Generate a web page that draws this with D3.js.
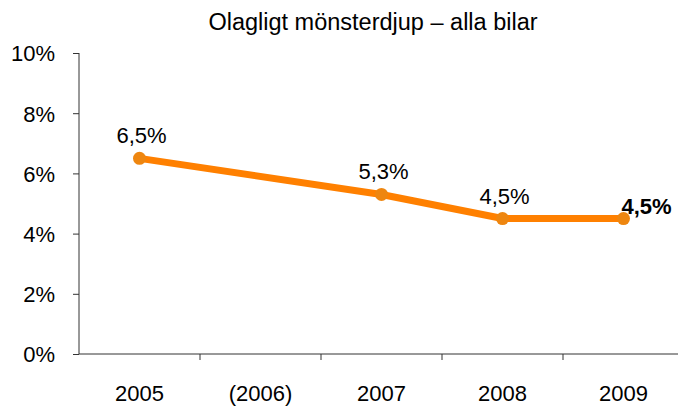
<!DOCTYPE html>
<html>
<head>
<meta charset="utf-8">
<script src="https://cdn.jsdelivr.net/npm/d3@7"></script>
<style>
  body { margin: 0; background: #fff; }
  svg { font-family: "Liberation Sans", Arial, sans-serif; overflow: hidden; }
</style>
</head>
<body>
<div id="chart"></div>
<script>
var years = ["2005", "(2006)", "2007", "2008", "2009"];
var values = [6.5, null, 5.3, 4.5, 4.5];
var labels = ["6,5%", null, "5,3%", "4,5%", "4,5%"];
var yTicks = [0, 2, 4, 6, 8, 10];

var width = 678, height = 407;
var margin = {top: 53, right: -6, bottom: 53, left: 79};

var svg = d3.select('#chart').append('svg')
    .attr('width', width)
    .attr('height', height);

var x = d3.scaleBand()
    .domain(years)
    .range([margin.left, width - margin.right]);

var y = d3.scaleLinear()
    .domain([0, 10])
    .range([height - margin.bottom, margin.top]);

// title
svg.append('text')
    .attr('x', 373)
    .attr('y', 30)
    .attr('text-anchor', 'middle')
    .style('font-size', '23.5px')
    .text('Olagligt mönsterdjup – alla bilar');

// y axis
var yAxis = svg.append('g')
    .attr('transform', 'translate(' + margin.left + ',0)')
    .call(d3.axisLeft(y).tickValues(yTicks).tickSize(6).tickPadding(18).tickFormat(d => d + '%'));
yAxis.select('.domain').attr('d', 'M0,' + y(10) + 'V' + y(0)).attr('stroke', '#333');
yAxis.selectAll('line').attr('stroke', '#333');
yAxis.selectAll('text').style('font-size', '22px').attr('fill', '#000').attr('dy', '0.36em');

// x axis, ticks at band edges
var xAxis = svg.append('g')
    .attr('transform', 'translate(0,' + y(0) + ')');
xAxis.append('line')
    .attr('x1', margin.left).attr('x2', width)
    .attr('stroke', '#333');
xAxis.selectAll('.edge')
    .data(years.slice(1))
    .enter().append('line')
    .attr('class', 'edge')
    .attr('x1', d => x(d)).attr('x2', d => x(d))
    .attr('y1', 0).attr('y2', 6)
    .attr('stroke', '#333');
xAxis.selectAll('.lbl')
    .data(years)
    .enter().append('text')
    .attr('class', 'lbl')
    .attr('x', d => x(d) + x.bandwidth() / 2)
    .attr('y', 47)
    .attr('text-anchor', 'middle')
    .style('font-size', '22px')
    .text(d => d);

var data = years.map((d, i) => ({year: d, v: values[i], label: labels[i]}))
    .filter(d => d.v !== null);

var cx = d => x(d.year) + x.bandwidth() / 2;

var line = d3.line()
    .x(cx)
    .y(d => y(d.v));

svg.append('path')
    .datum(data)
    .attr('d', line)
    .attr('fill', 'none')
    .attr('stroke', '#FF8000')
    .attr('stroke-width', 7)
    .attr('stroke-linejoin', 'round');

svg.selectAll('.dot')
    .data(data)
    .enter().append('circle')
    .attr('class', 'dot')
    .attr('cx', cx)
    .attr('cy', d => y(d.v))
    .attr('r', 6.5)
    .attr('fill', '#EE8610');

var last = data.length - 1;
svg.selectAll('.val')
    .data(data)
    .enter().append('text')
    .attr('class', 'val')
    .attr('x', (d, i) => i === last ? cx(d) + 23 : cx(d) + 2)
    .attr('y', (d, i) => i === last ? y(d.v) - 5 : y(d.v) - 15)
    .attr('text-anchor', 'middle')
    .style('font-size', '22px')
    .style('font-weight', (d, i) => i === last ? 'bold' : 'normal')
    .text(d => d.label);
</script>
</body>
</html>
